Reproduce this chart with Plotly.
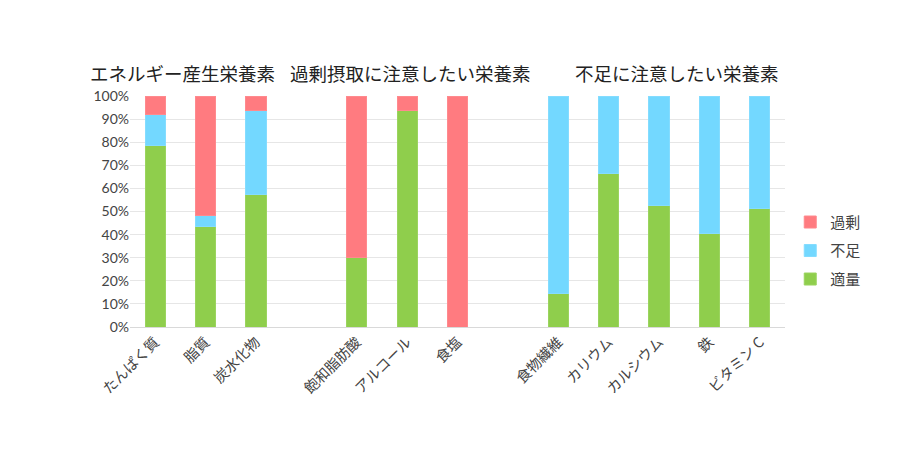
import plotly.graph_objects as go

categories = ["たんぱく質", "脂質", "炭水化物", " ",
              "飽和脂肪酸", "アルコール", "食塩", "  ",
              "食物繊維", "カリウム", "カルシウム", "鉄", "ビタミン C"]
tekiryo = [78.5, 43.5, 57.2, None, 30.0, 93.8, None, None, 14.5, 66.3, 52.6, 40.3, 51.1]
fusoku = [13.6, 4.6, 36.6, None, None, None, None, None, 85.5, 33.7, 47.4, 59.7, 48.9]
kajo = [7.9, 51.9, 6.2, None, 70.0, 6.2, 100.0, None, None, None, None, None, None]
y_ticks = [0, 10, 20, 30, 40, 50, 60, 70, 80, 90, 100]
y_tick_labels = [f"{v}%" for v in y_ticks]
section_titles = ["エネルギー産生栄養素", "過剰摂取に注意したい栄養素", "不足に注意したい栄養素"]

FONT = "Lato, 'Noto Sans CJK JP', sans-serif"
CJK = "'Noto Sans CJK JP', sans-serif"

fig = go.Figure()
fig.add_bar(x=categories, y=tekiryo, name="適量", legendgroup="a", legendrank=3,
            marker=dict(color="#8FCE4C", line=dict(color="#9BD45F", width=1)))
fig.add_bar(x=categories, y=fusoku, name="不足", legendgroup="b", legendrank=2,
            marker=dict(color="#73D8FF", line=dict(color="#84DCFF", width=1)))
fig.add_bar(x=categories, y=kajo, name="過剰", legendgroup="c", legendrank=1,
            marker=dict(color="#FF7B80", line=dict(color="#FF8A8E", width=1)))

title_x = [-0.064, 0.2412, 0.6763]
for t, xx in zip(section_titles, title_x):
    fig.add_annotation(text=t, x=xx, y=1.10, xref="paper", yref="paper",
                       xanchor="left", yanchor="middle", showarrow=False,
                       font=dict(family=CJK, size=18.5, color="#222222"))

fig.update_layout(
    width=920, height=458,
    barmode="stack", bargap=0.6,
    plot_bgcolor="white", paper_bgcolor="white",
    margin=dict(l=130, r=135, t=96, b=131),
    font=dict(family=FONT, color="#444444", size=14),
    legend=dict(traceorder="grouped", x=1.008, xanchor="left", y=0.33, yanchor="middle",
                font=dict(family=CJK, size=15, color="#444444"),
                itemwidth=30, tracegroupgap=6),
    xaxis=dict(type="category", tickangle=-45, showgrid=False, showline=True,
               linecolor="#d9d9d9", linewidth=1, ticks="",
               tickfont=dict(family=CJK, size=14.5, color="#444444")),
    yaxis=dict(range=[0, 100], tickvals=y_ticks, ticktext=y_tick_labels,
               showgrid=True, gridcolor="#e6e6e6", gridwidth=1, zeroline=False,
               ticks="", tickfont=dict(family="Lato", size=14, color="#444444")),
)

fig.write_html("out.html")
